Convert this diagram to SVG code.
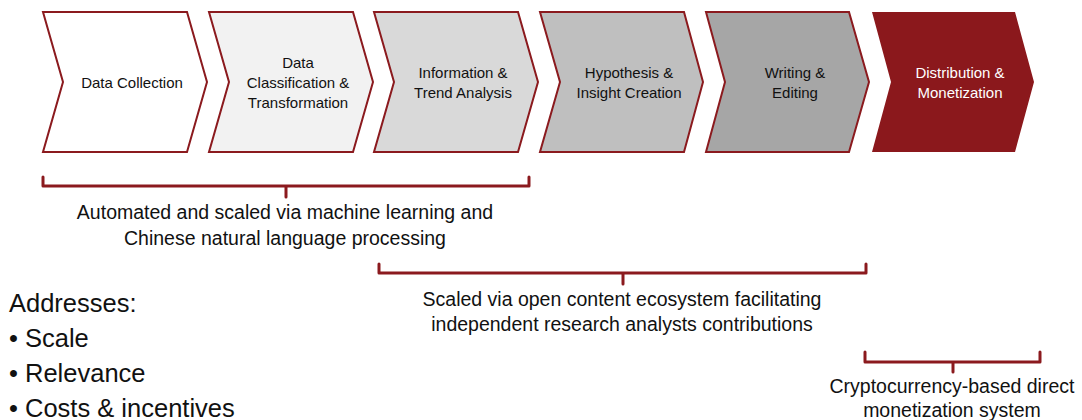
<svg xmlns="http://www.w3.org/2000/svg" width="1082" height="420" viewBox="0 0 1082 420">
<style>
.chev{stroke:#8b1a1e;stroke-width:2;stroke-linejoin:miter}
.lbl{font-family:"Liberation Sans",Arial,sans-serif;font-size:15px;text-anchor:middle;fill:#111}
.brk{fill:none;stroke:#8b1a1e;stroke-width:3;stroke-linecap:round;stroke-linejoin:round}
.note{font-family:"Liberation Sans",Arial,sans-serif;font-size:19.5px;text-anchor:middle;fill:#111}
.big{font-family:"Liberation Sans",Arial,sans-serif;font-size:25.5px;fill:#111}
</style>
<rect width="1082" height="420" fill="#fff"/>
<g id="step1"><path class="chev" fill="#ffffff" d="M43,12 L187,12 L207,82 L187,152 L43,152 L63,82 Z"/>
<text class="lbl" x="132" y="88">Data Collection</text></g>
<g id="step2"><path class="chev" fill="#f2f2f2" d="M209,12 L353,12 L373,82 L353,152 L209,152 L229,82 Z"/>
<text class="lbl" x="298" y="68">Data</text><text class="lbl" x="298" y="88">Classification &amp;</text><text class="lbl" x="298" y="108">Transformation</text></g>
<g id="step3"><path class="chev" fill="#d9d9d9" d="M374,12 L518,12 L538,82 L518,152 L374,152 L394,82 Z"/>
<text class="lbl" x="463" y="78">Information &amp;</text><text class="lbl" x="463" y="98">Trend Analysis</text></g>
<g id="step4"><path class="chev" fill="#bfbfbf" d="M540,12 L684,12 L703,82 L684,152 L540,152 L560,82 Z"/>
<text class="lbl" x="629" y="78">Hypothesis &amp;</text><text class="lbl" x="629" y="98">Insight Creation</text></g>
<g id="step5"><path class="chev" fill="#a6a6a6" d="M706,12 L849,12 L869,82 L849,152 L706,152 L725,82 Z"/>
<text class="lbl" x="795" y="78">Writing &amp;</text><text class="lbl" x="795" y="98">Editing</text></g>
<g id="step6"><path fill="#8b181c" d="M872,12 L1015,12 L1034,82 L1015,152 L872,152 L891,82 Z"/>
<text class="lbl" x="960" y="78" style="fill:#fff">Distribution &amp;</text><text class="lbl" x="960" y="98" style="fill:#fff">Monetization</text></g>
<g id="connectors">
<path class="brk" d="M43,177 L43,186 L286,186 L286,197 M286,186 L529,186 L529,177"/>
<path class="brk" d="M379,264 L379,273 L623,273 L623,284 M623,273 L866,273 L866,264"/>
<path class="brk" d="M865,352 L865,362 L953,362 L953,372 M953,362 L1040,362 L1040,352"/>
</g>
<g id="note1"><text class="note" x="285" y="219">Automated and scaled via machine learning and</text><text class="note" x="285" y="245">Chinese natural language processing</text></g>
<g id="note2"><text class="note" x="622" y="306">Scaled via open content ecosystem facilitating</text><text class="note" x="622" y="331">independent research analysts contributions</text></g>
<g id="note3"><text class="note" x="952" y="393">Cryptocurrency-based direct</text><text class="note" x="952" y="417">monetization system</text></g>
<g id="addresses">
<text class="big" x="9" y="312">Addresses:</text>
<text class="big" x="9" y="347">• Scale</text>
<text class="big" x="9" y="382">• Relevance</text>
<text class="big" x="9" y="417">• Costs &amp; incentives</text>
</g>
</svg>
